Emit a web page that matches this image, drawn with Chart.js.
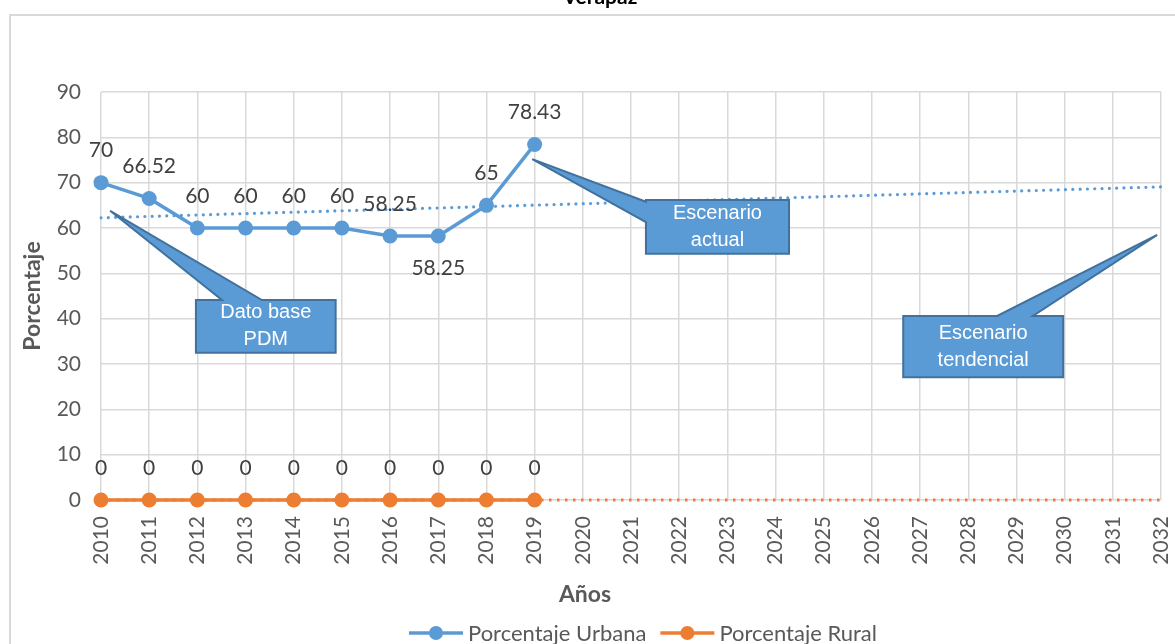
<!DOCTYPE html>
<html>
<head>
<meta charset="utf-8">
<script src="https://cdn.jsdelivr.net/npm/chart.js@4.4.0/dist/chart.umd.min.js"></script>
<style>
  html, body { margin: 0; padding: 0; background: #fff; overflow: hidden; }
  #wrap { width: 1175px; height: 644px; position: relative; }
</style>
</head>
<body>
<div id="wrap"><canvas id="myChart"></canvas></div>
<script>
// data
const years = ['2010', '2011', '2012', '2013', '2014', '2015', '2016', '2017', '2018', '2019', '2020',
  '2021', '2022', '2023', '2024', '2025', '2026', '2027', '2028', '2029', '2030', '2031', '2032'];
const urbana = [70, 66.52, 60, 60, 60, 60, 58.25, 58.25, 65, 78.43];
const rural = [0, 0, 0, 0, 0, 0, 0, 0, 0, 0];
// trend lines: value at 2010 and at 2032
const trendUrbana = [62.25, 69.08];
const trendRural = [0, 0];

const BLUE = '#5B9BD5';
const ORANGE = '#ED7D31';
const FONT = 'Lato, "Open Sans", sans-serif';
Chart.defaults.font.family = FONT;

// callouts, positioned in data units (x = category index, y = value)
const callouts = [
  { lines: ['Dato base', 'PDM'], box: [1.97, 4.87, 44.1, 32.5], tip: [0.19, 63.8], edge: 'top', base: [2.51, 3.34] },
  { lines: ['Escenario', 'actual'], box: [11.31, 14.28, 66.2, 54.3], tip: [8.95, 75.2], edge: 'left', base: [65.8, 61.3] },
  { lines: ['Escenario', 'tendencial'], box: [16.65, 19.97, 40.6, 27.1], tip: [21.92, 58.5], edge: 'top', base: [18.6, 19.34] }
];

// label placement for the urban series (1 = above, -1 = below)
const urbanaLabelPos = [1, 1, 1, 1, 1, 1, 1, -1, 1, 1];

const extras = {
  id: 'extras',
  beforeDraw(chart) {
    const c = chart.ctx;
    c.save();
    c.strokeStyle = '#d9d9d9';
    c.lineWidth = 2;
    c.strokeRect(10, 15, 1300, 800);
    // title, mostly cut off at the top
    c.fillStyle = '#000';
    c.font = 'bold 21px ' + FONT;
    c.textAlign = 'center';
    c.textBaseline = 'alphabetic';
    c.fillText('Verapaz', 600, 4);
    // x axis title (Excel puts it left of the plot centre)
    c.fillStyle = '#595959';
    c.font = 'bold 23px ' + FONT;
    c.textBaseline = 'middle';
    c.fillText('Años', 585, 595);
    c.restore();
  },
  afterDatasetsDraw(chart) {
    const c = chart.ctx;
    const xs = chart.scales.x, ys = chart.scales.y;
    c.save();
    // data labels
    c.font = '21px ' + FONT;
    c.fillStyle = '#404040';
    c.textAlign = 'center';
    c.textBaseline = 'middle';
    urbana.forEach((v, i) => {
      c.fillText(String(v), xs.getPixelForValue(i), ys.getPixelForValue(v) - 32 * urbanaLabelPos[i]);
    });
    rural.forEach((v, i) => {
      c.fillText(String(v), xs.getPixelForValue(i), ys.getPixelForValue(v) - 32);
    });

    // callouts
    callouts.forEach(co => {
      const px = v => xs.getPixelForValue(v), py = v => ys.getPixelForValue(v);
      const x0 = px(co.box[0]), x1 = px(co.box[1]), y0 = py(co.box[2]), y1 = py(co.box[3]);
      const tx = px(co.tip[0]), ty = py(co.tip[1]);
      c.beginPath();
      if (co.edge === 'top') {
        c.moveTo(x0, y0);
        c.lineTo(px(co.base[0]), y0);
        c.lineTo(tx, ty);
        c.lineTo(px(co.base[1]), y0);
        c.lineTo(x1, y0);
        c.lineTo(x1, y1);
        c.lineTo(x0, y1);
      } else {
        c.moveTo(x0, y0);
        c.lineTo(x1, y0);
        c.lineTo(x1, y1);
        c.lineTo(x0, y1);
        c.lineTo(x0, py(co.base[1]));
        c.lineTo(tx, ty);
        c.lineTo(x0, py(co.base[0]));
      }
      c.closePath();
      c.fillStyle = BLUE;
      c.fill();
      c.strokeStyle = '#41719C';
      c.lineWidth = 2;
      c.lineJoin = 'miter';
      c.stroke();

      c.fillStyle = '#fff';
      c.font = '20px "Liberation Sans", Arial, sans-serif';
      const cx = (x0 + x1) / 2, cy = (y0 + y1) / 2;
      c.fillText(co.lines[0], cx, cy - 13.5);
      c.fillText(co.lines[1], cx, cy + 13.5);
    });
    c.restore();
  },
  afterDraw(chart) {
    // legend
    const c = chart.ctx;
    const items = [{ text: 'Porcentaje Urbana', color: BLUE }, { text: 'Porcentaje Rural', color: ORANGE }];
    c.save();
    c.font = '22px ' + FONT;
    c.textBaseline = 'middle';
    c.textAlign = 'left';
    const lineLen = 54, gap = 5, spacing = 14;
    let total = 0;
    items.forEach((it, i) => {
      it.w = c.measureText(it.text).width;
      total += lineLen + gap + it.w + (i ? spacing : 0);
    });
    let x = 643 - total / 2;
    const y = 633;
    items.forEach(it => {
      c.strokeStyle = it.color;
      c.lineWidth = 3.5;
      c.beginPath();
      c.moveTo(x, y);
      c.lineTo(x + lineLen, y);
      c.stroke();
      c.fillStyle = it.color;
      c.beginPath();
      c.arc(x + lineLen / 2, y, 7, 0, Math.PI * 2);
      c.fill();
      c.fillStyle = '#595959';
      c.fillText(it.text, x + lineLen + gap, y + 1);
      x += lineLen + gap + it.w + spacing;
    });
    c.restore();
  }
};

const ctx = document.getElementById('myChart').getContext('2d');
const myChart = new Chart(ctx, {
  type: 'line',
  data: {
    labels: years,
    datasets: [
      {
        label: 'Porcentaje Urbana',
        data: urbana,
        borderColor: BLUE,
        backgroundColor: BLUE,
        borderWidth: 3.5,
        pointRadius: 7.5,
        pointBorderWidth: 0,
        tension: 0,
        clip: false
      },
      {
        label: 'Porcentaje Rural',
        data: rural,
        borderColor: ORANGE,
        backgroundColor: ORANGE,
        borderWidth: 3.5,
        pointRadius: 7.5,
        pointBorderWidth: 0,
        tension: 0,
        clip: false
      },
      {
        label: 'Tendencia Urbana',
        data: [{ x: years[0], y: trendUrbana[0] }, { x: years[years.length - 1], y: trendUrbana[1] }],
        borderColor: BLUE,
        borderWidth: 3.2,
        borderDash: [0.01, 7.3],
        borderCapStyle: 'round',
        pointRadius: 0
      },
      {
        label: 'Tendencia Rural',
        data: [{ x: years[0], y: trendRural[0] }, { x: years[years.length - 1], y: trendRural[1] }],
        borderColor: ORANGE,
        borderWidth: 3,
        borderDash: [2.5, 5.5],
        pointRadius: 0,
        clip: false
      }
    ]
  },
  options: {
    responsive: true,
    maintainAspectRatio: false,
    animation: false,
    layout: { padding: { left: 12, right: 14, top: 92, bottom: 0 } },
    plugins: {
      legend: { display: false },
      tooltip: { enabled: false }
    },
    scales: {
      x: {
        type: 'category',
        offset: false,
        grid: { color: '#d9d9d9', lineWidth: 1.5, drawTicks: false },
        border: { display: false },
        ticks: {
          autoSkip: false,
          minRotation: 90,
          maxRotation: 90,
          padding: 16,
          color: '#595959',
          font: { size: 21 }
        },
        title: { display: false },
        afterFit: s => { s.height = 144; s.paddingLeft = 0; s.paddingRight = 0; }
      },
      y: {
        min: 0,
        max: 90,
        grid: { color: '#d9d9d9', lineWidth: 1.5, drawTicks: false },
        border: { display: false },
        ticks: {
          stepSize: 10,
          padding: 20,
          color: '#595959',
          font: { size: 21 }
        },
        title: {
          display: true,
          text: 'Porcentaje',
          color: '#595959',
          font: { size: 23, weight: 'bold' },
          padding: { top: 7, bottom: 0 }
        },
        afterFit: s => { s.width = 89; }
      }
    }
  },
  plugins: [extras]
});
</script>
</body>
</html>
